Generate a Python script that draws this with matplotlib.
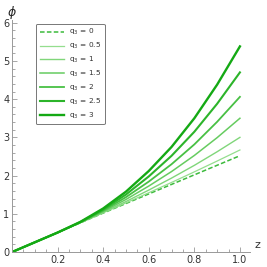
import matplotlib
matplotlib.use("Agg")
import matplotlib.pyplot as plt
from matplotlib.ticker import MultipleLocator, FixedLocator

z = [0.0, 0.1, 0.2, 0.3, 0.4, 0.5, 0.6, 0.7, 0.8, 0.9, 1.0]
phi_q0   = [0, 0.255, 0.51, 0.765, 1.02, 1.27, 1.52, 1.77, 2.02, 2.27, 2.52]
phi_q05  = [0, 0.255, 0.51, 0.766, 1.026, 1.286, 1.551, 1.821, 2.098, 2.381, 2.67]
phi_q1   = [0, 0.255, 0.51, 0.769, 1.040, 1.322, 1.621, 1.935, 2.268, 2.624, 3.00]
phi_q15  = [0, 0.255, 0.51, 0.774, 1.061, 1.376, 1.726, 2.106, 2.527, 2.993, 3.50]
phi_q2   = [0, 0.255, 0.51, 0.779, 1.085, 1.436, 1.843, 2.298, 2.816, 3.407, 4.06]
phi_q25  = [0, 0.255, 0.51, 0.785, 1.112, 1.505, 1.978, 2.518, 3.147, 3.879, 4.70]
phi_q3   = [0, 0.255, 0.51, 0.790, 1.140, 1.580, 2.120, 2.750, 3.500, 4.380, 5.38]

series = [phi_q0, phi_q05, phi_q1, phi_q15, phi_q2, phi_q25, phi_q3]
labels = ["0", "0.5", "1", "1.5", "2", "2.5", "3"]
colors = ["#3cba3c", "#94de8e", "#80d67a", "#66cc60", "#48c044", "#2cb42a", "#14a914"]
widths = [1.1, 0.9, 1.0, 1.1, 1.3, 1.5, 1.7]

fig = plt.figure(figsize=(2.67, 2.67), dpi=100)
ax = fig.add_axes([0.045, 0.056, 0.892, 0.869])

for s, lab, c, w in zip(series, labels, colors, widths):
    if lab == "0":
        ax.plot(z, s, color=c, lw=w, ls="--", dashes=(3, 1.5), label=r"q$_3$ = " + lab)
    else:
        ax.plot(z, s, color=c, lw=w, ls="-", label=r"q$_3$ = " + lab)

ax.set_xlim(0, 1.045)
ax.set_ylim(0, 6.07)
for sp in ["top", "right"]:
    ax.spines[sp].set_visible(False)
for sp in ["left", "bottom"]:
    ax.spines[sp].set_color("#999999")
    ax.spines[sp].set_linewidth(0.7)

ax.xaxis.set_major_locator(FixedLocator([0.2, 0.4, 0.6, 0.8, 1.0]))
ax.xaxis.set_minor_locator(MultipleLocator(0.05))
ax.yaxis.set_major_locator(MultipleLocator(1))
ax.yaxis.set_minor_locator(MultipleLocator(0.2))
ax.set_xticklabels(["0.2", "0.4", "0.6", "0.8", "1.0"])
ax.tick_params(which="both", direction="in", color="#999999", width=0.6,
               labelsize=7, labelcolor="#333333", pad=2)
ax.tick_params(which="major", length=3.5)
ax.tick_params(which="minor", length=2)

fig.text(0.966, 0.082, "z", fontsize=8, color="#333333", ha="center", va="center")
fig.text(0.045, 0.955, r"$\phi$", fontsize=9, color="#222222", ha="center", va="center")

leg = ax.legend(loc="upper left", bbox_to_anchor=(0.1, 0.985), fontsize=5.3,
                handlelength=3.3, handleheight=0.6, labelspacing=0.5, frameon=True,
                borderpad=0.5, handletextpad=0.7, fancybox=True, borderaxespad=0.0)
leg.get_frame().set_edgecolor("#555555")
leg.get_frame().set_linewidth(0.7)
for t in leg.get_texts():
    t.set_color("#333333")

fig.savefig("out.png", dpi=100)
